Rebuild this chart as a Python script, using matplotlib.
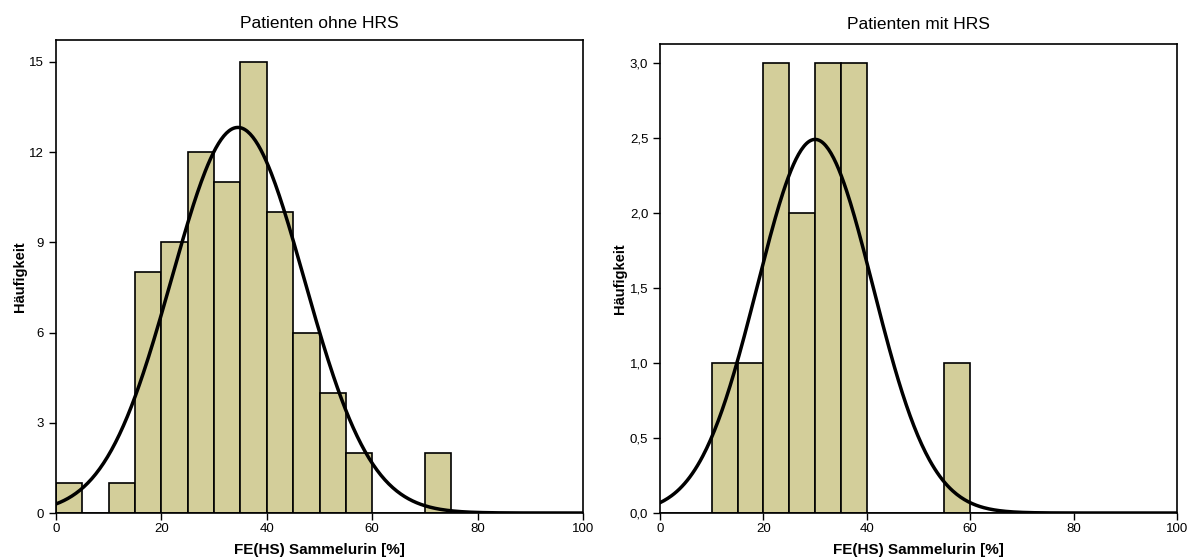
import numpy as np
import matplotlib.pyplot as plt
from matplotlib.ticker import FuncFormatter

plt.rcParams['font.family'] = ['Liberation Sans', 'DejaVu Sans']

# bin edges (width 5) and counts per bin
bin_left = [0, 5, 10, 15, 20, 25, 30, 35, 40, 45, 50, 55, 60, 65, 70, 75, 80, 85, 90, 95]
counts_ohne = [1, 0, 1, 8, 9, 12, 11, 15, 10, 6, 4, 2, 0, 0, 2, 0, 0, 0, 0, 0]
counts_mit = [0, 0, 1, 1, 3, 2, 3, 3, 0, 0, 0, 1, 0, 0, 0, 0, 0, 0, 0, 0]
bin_width = 5

# normal curve parameters
mean_ohne, sd_ohne = 34.5, 12.6
mean_mit, sd_mit = 30.0, 11.2

yticks_ohne = [0, 3, 6, 9, 12, 15]
yticks_mit = [0, 0.5, 1.0, 1.5, 2.0, 2.5, 3.0]

bar_color = '#d3ce9a'


def draw(ax, counts, mean, sd, title, yticks, ytop, comma, tpad):
    n = sum(counts)
    ax.bar(bin_left, counts, width=bin_width, align='edge', color=bar_color,
           edgecolor='black', linewidth=1.2, zorder=2)
    x = np.linspace(0, 100, 400)
    y = n * bin_width / (sd * np.sqrt(2 * np.pi)) * np.exp(-(x - mean) ** 2 / (2 * sd ** 2))
    ax.plot(x, y, color='black', linewidth=2.5, zorder=3)
    ax.set_xlim(0, 100)
    ax.set_ylim(0, ytop)
    ax.set_xticks([0, 20, 40, 60, 80, 100])
    ax.set_yticks(yticks)
    if comma:
        ax.yaxis.set_major_formatter(FuncFormatter(lambda v, p: f'{v:.1f}'.replace('.', ',')))
    ax.tick_params(direction='out', length=5, width=1, labelsize=9.5, color='black')
    ax.tick_params(axis='x', pad=2)
    for s in ax.spines.values():
        s.set_linewidth(1.2)
    ax.set_title(title, fontsize=12.5, pad=tpad)
    ax.set_xlabel('FE(HS) Sammelurin [%]', fontsize=11, fontweight='bold', labelpad=6)
    ax.set_ylabel('Häufigkeit', fontsize=10.5, fontweight='bold', labelpad=2)


fig = plt.figure(figsize=(11.95, 5.6), dpi=100)
ax1 = fig.add_axes([0.0469, 0.0839, 0.441, 0.8446])
ax2 = fig.add_axes([0.5523, 0.0839, 0.4326, 0.8375])

draw(ax1, counts_ohne, mean_ohne, sd_ohne, 'Patienten ohne HRS', yticks_ohne, 15.73, False, 9)
draw(ax2, counts_mit, mean_mit, sd_mit, 'Patienten mit HRS', yticks_mit, 3.13, True, 11)

fig.savefig('out.png', dpi=100)
